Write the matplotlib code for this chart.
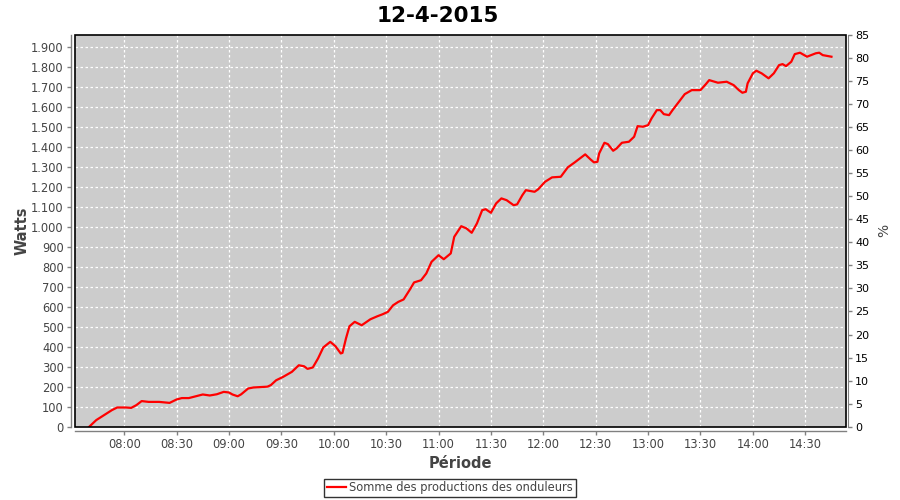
import matplotlib
matplotlib.use('Agg')
import matplotlib.pyplot as plt
import matplotlib.dates as mdates
import matplotlib.ticker as mticker
from matplotlib.patches import Rectangle
import pandas as pd

# valeurs
heures = ['07:40', '07:44', '07:50', '07:53', '07:56', '08:01', '08:04', '08:07', '08:10', '08:14',
          '08:20', '08:26', '08:30', '08:33', '08:37', '08:41', '08:45', '08:49', '08:53', '08:57',
          '09:00', '09:02', '09:05', '09:07', '09:11', '09:14', '09:22', '09:24', '09:27', '09:31',
          '09:36', '09:40', '09:43', '09:45', '09:48', '09:51', '09:54', '09:58', '10:01', '10:04',
          '10:05', '10:07', '10:09', '10:12', '10:16', '10:21', '10:25', '10:28', '10:31', '10:34',
          '10:37', '10:40', '10:44', '10:46', '10:50', '10:53', '10:56', '11:00', '11:03', '11:07',
          '11:09', '11:13', '11:16', '11:19', '11:22', '11:25', '11:27', '11:30', '11:33', '11:36',
          '11:39', '11:43', '11:45', '11:48', '11:50', '11:55', '11:57', '12:01', '12:05', '12:10',
          '12:14', '12:18', '12:24', '12:27', '12:29', '12:31', '12:32', '12:35', '12:37', '12:40',
          '12:42', '12:45', '12:49', '12:52', '12:54', '12:57', '13:00', '13:02', '13:05', '13:07',
          '13:09', '13:12', '13:14', '13:17', '13:21', '13:25', '13:30', '13:33', '13:35', '13:40',
          '13:45', '13:49', '13:52', '13:54', '13:56', '13:57', '14:00', '14:02', '14:05', '14:09',
          '14:12', '14:15', '14:17', '14:19', '14:22', '14:24', '14:27', '14:31', '14:36', '14:38',
          '14:40', '14:45']
watts = [0, 33, 66, 83, 96, 96, 94, 108, 128, 124,
         124, 119, 136, 143, 143, 152, 161, 156, 162, 174,
         171, 161, 152, 162, 191, 196, 200, 208, 232, 249,
         274, 307, 302, 289, 296, 341, 396, 424, 402, 366,
         369, 441, 502, 524, 507, 537, 552, 562, 574, 607,
         624, 636, 691, 721, 732, 766, 824, 857, 837, 866,
         949, 1002, 991, 969, 1016, 1082, 1087, 1069, 1116, 1141,
         1132, 1107, 1111, 1157, 1182, 1174, 1186, 1224, 1246, 1249,
         1296, 1321, 1361, 1336, 1321, 1324, 1366, 1419, 1412, 1379,
         1391, 1419, 1424, 1449, 1502, 1499, 1507, 1541, 1582, 1582,
         1562, 1557, 1582, 1616, 1662, 1682, 1682, 1711, 1732, 1719,
         1724, 1707, 1682, 1669, 1674, 1716, 1766, 1779, 1766, 1741,
         1766, 1807, 1812, 1802, 1824, 1862, 1869, 1849, 1866, 1869,
         1857, 1849]

titre = '12-4-2015'
serie = 'Somme des productions des onduleurs'

t = pd.to_datetime(['2015-04-12 ' + h for h in heures])

fig = plt.figure(figsize=(9, 5), dpi=100)
ax = fig.add_axes([75/900, 1-426.7/500, (846-75)/900, (426.7-35)/500])
ax.set_facecolor('#cccccc')

ax.plot(t, watts, color='red', lw=1.6, label=serie, zorder=3)

ax.set_xlim(pd.Timestamp('2015-04-12 07:31:50'), pd.Timestamp('2015-04-12 14:53:20'))
ax.set_ylim(0, 1957.5)
ax.xaxis.set_major_locator(mdates.MinuteLocator(byminute=[0, 30]))
ax.xaxis.set_major_formatter(mdates.DateFormatter('%H:%M'))
ax.yaxis.set_major_locator(mticker.MultipleLocator(100))
ax.yaxis.set_major_formatter(mticker.FuncFormatter(lambda v, p: f'{int(v):,}'.replace(',', '.')))

ax.grid(True, color='white', ls=(0, (2, 2)), lw=0.9)
ax.set_axisbelow(True)

ax.spines['top'].set_visible(False)
ax.spines['right'].set_visible(False)
for s in ['left', 'bottom']:
    ax.spines[s].set_color('#808080')
    ax.spines[s].set_linewidth(1)
    ax.spines[s].set_position(('outward', 3))
ax.add_patch(Rectangle((0, 0), 1, 1, transform=ax.transAxes, fill=False,
                       ec='black', lw=1.2, zorder=5, clip_on=False))

ax.tick_params(axis='both', colors='#808080', labelcolor='#444444', labelsize=8.3,
               length=3, width=1, direction='out', pad=2)

ax.set_ylabel('Watts', fontsize=10.5, fontweight='bold', color='#444444', labelpad=1)
ax.set_xlabel('Période', fontsize=10.5, fontweight='bold', color='#444444', labelpad=4)

ax2 = ax.twinx()
ax2.set_ylim(0, 85)
ax2.yaxis.set_major_locator(mticker.MultipleLocator(5))
for s in ['top', 'left', 'bottom']:
    ax2.spines[s].set_visible(False)
ax2.spines['right'].set_color('#808080')
ax2.spines['right'].set_position(('outward', 1.5))
ax2.tick_params(axis='y', colors='#808080', labelcolor='black', labelsize=8,
                length=3, width=1, direction='out', pad=2)
ax2.set_ylabel('%', fontsize=10, color='#444444', labelpad=6)

fig.text(0.486, 0.969, titre, ha='center', va='center', fontsize=15.5, fontweight='bold')

leg = fig.legend(loc='center', bbox_to_anchor=(0.5, 0.024), ncol=1, fontsize=8.3,
                 frameon=True, fancybox=False, edgecolor='black', borderpad=0.25,
                 handlelength=1.6, handletextpad=0.3, borderaxespad=0)
leg.get_frame().set_linewidth(1)
for txt in leg.get_texts():
    txt.set_color('#444444')

fig.savefig('out.png', dpi=100)
